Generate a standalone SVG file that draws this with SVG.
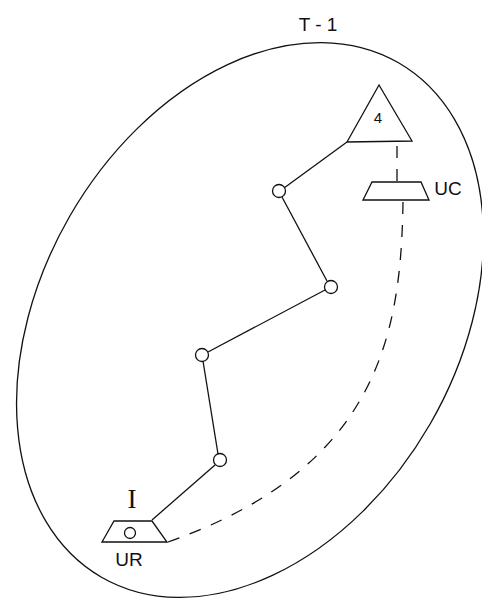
<svg xmlns="http://www.w3.org/2000/svg" width="482" height="602" viewBox="0 0 482 602">
<style>
.ln{stroke:#111;stroke-width:1.3;fill:none}
.dash{stroke:#111;stroke-width:1.3;fill:none;stroke-dasharray:12 11}
.nd{stroke:#111;stroke-width:1.3;fill:#fff}
.lbl{font-family:"Liberation Sans",Arial,sans-serif;fill:#111}
</style>
<rect width="482" height="602" fill="#fff"/>
<text class="lbl" x="318" y="31" font-size="19" text-anchor="middle">T - 1</text>
<g id="boundary">
<ellipse class="ln" cx="250" cy="320" rx="208" ry="297" transform="rotate(30 250 320)"/>
</g>
<g id="connectors">
<line class="ln" x1="347" y1="142" x2="284" y2="188"/>
<line class="ln" x1="282" y1="197" x2="327" y2="281"/>
<line class="ln" x1="325" y1="290" x2="208" y2="352"/>
<line class="ln" x1="203" y1="361" x2="218" y2="454"/>
<line class="ln" x1="215" y1="465" x2="152" y2="520"/>
<line class="dash" x1="397" y1="142" x2="397" y2="182" stroke-dasharray="9 8" stroke-dashoffset="-4"/>
<path class="dash" d="M403 202 C401 335 378 468 168 542"/>
</g>
<g id="top-triangle">
<polygon class="nd" points="379,85 347,142 412,141"/>
<text class="lbl" x="378" y="123" font-size="15" text-anchor="middle">4</text>
</g>
<g id="UC">
<polygon class="nd" points="372,182 421,182 429,200 363,200"/>
<text class="lbl" x="448" y="195" font-size="19" text-anchor="middle">UC</text>
</g>
<g id="node1"><circle class="nd" cx="279" cy="191" r="6.5"/></g>
<g id="node2"><circle class="nd" cx="331" cy="287" r="6.5"/></g>
<g id="node3"><circle class="nd" cx="202" cy="355" r="6.5"/></g>
<g id="node4"><circle class="nd" cx="220" cy="460" r="6.5"/></g>
<g id="UR">
<polygon class="nd" points="114,521 152,521 167,542 102,542"/>
<circle class="ln" cx="130" cy="533" r="5.5"/>
<text class="lbl" x="129" y="566" font-size="19" text-anchor="middle">UR</text>
<text x="132" y="508" font-size="27" text-anchor="middle" font-family="'Liberation Serif','Times New Roman',serif" fill="#111">I</text>
</g>
</svg>
